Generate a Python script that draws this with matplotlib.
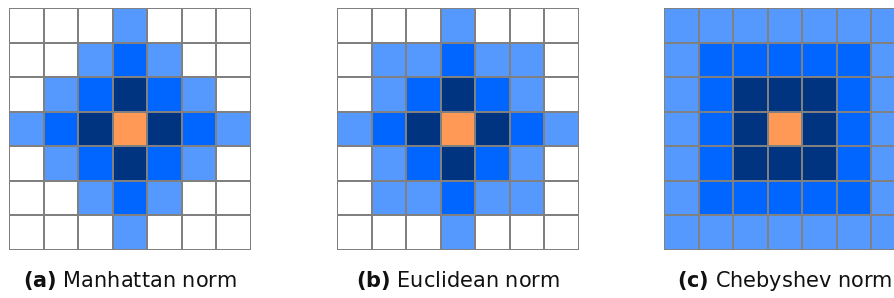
import numpy as np
import matplotlib
matplotlib.use("Agg")
import matplotlib.pyplot as plt
from matplotlib.colors import ListedColormap

# level 0 = centre, 1..3 = distance rings, 4 = outside
manhattan = [
    [4, 4, 4, 3, 4, 4, 4],
    [4, 4, 3, 2, 3, 4, 4],
    [4, 3, 2, 1, 2, 3, 4],
    [3, 2, 1, 0, 1, 2, 3],
    [4, 3, 2, 1, 2, 3, 4],
    [4, 4, 3, 2, 3, 4, 4],
    [4, 4, 4, 3, 4, 4, 4],
]
euclidean = [
    [4, 4, 4, 3, 4, 4, 4],
    [4, 3, 3, 2, 3, 3, 4],
    [4, 3, 2, 1, 2, 3, 4],
    [3, 2, 1, 0, 1, 2, 3],
    [4, 3, 2, 1, 2, 3, 4],
    [4, 3, 3, 2, 3, 3, 4],
    [4, 4, 4, 3, 4, 4, 4],
]
chebyshev = [
    [3, 3, 3, 3, 3, 3, 3],
    [3, 2, 2, 2, 2, 2, 3],
    [3, 2, 1, 1, 1, 2, 3],
    [3, 2, 1, 0, 1, 2, 3],
    [3, 2, 1, 1, 1, 2, 3],
    [3, 2, 2, 2, 2, 2, 3],
    [3, 3, 3, 3, 3, 3, 3],
]
labels = ["(a)", "(b)", "(c)"]
names = ["Manhattan norm", "Euclidean norm", "Chebyshev norm"]
level_colors = ["#ff9955", "#003380", "#0066ff", "#5599ff", "#ffffff"]

W, H = 894, 298
fig = plt.figure(figsize=(W / 100, H / 100), dpi=100)
cmap = ListedColormap(level_colors)

lefts = [9, 337, 664]
size = 242
top = 8
for grid, left, lab, name in zip([manhattan, euclidean, chebyshev], lefts, labels, names):
    ax = fig.add_axes([left / W, (H - top - size) / H, size / W, size / H])
    data = np.array(grid)
    ax.pcolormesh(data, cmap=cmap, vmin=-0.5, vmax=4.5,
                  edgecolors="#808080", linewidth=1.3)
    ax.set_xlim(0, 7)
    ax.set_ylim(7, 0)
    ax.set_axis_off()
    cx = (left + size / 2) / W
    fig.text(cx, 11 / H, r"$\mathbf{" + lab + "}$ " + name,
             ha="center", va="baseline", fontsize=15, color="#111111")

fig.savefig("out.png", dpi=100)
